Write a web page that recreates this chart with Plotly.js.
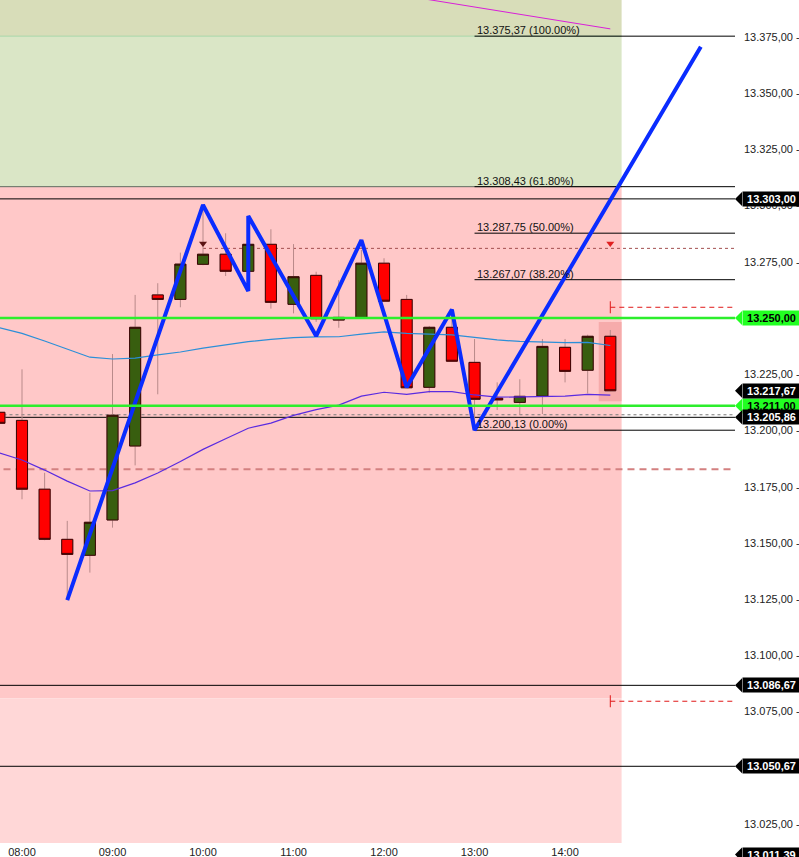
<!DOCTYPE html>
<html>
<head>
<meta charset="utf-8">
<script src="https://cdn.plot.ly/plotly-3.0.1.min.js"></script>
<style>html,body{margin:0;padding:0;background:#fff}#chart{width:799px;height:857px}</style>
</head>
<body>
<div id="chart"></div>
<script>
// ---------- data ----------
const DAY = '2024-03-04 ';
const times = ['07:45','08:00','08:15','08:30','08:45','09:00','09:15','09:30','09:45','10:00','10:15','10:30','10:45','11:00','11:15','11:30','11:45','12:00','12:15','12:30','12:45','13:00','13:15','13:30','13:45','14:00','14:15','14:30'];
const opens  = [13208.1,13204.5,13173.9,13151.6,13144.5,13160.2,13193.1,13260.3,13258.3,13273.9,13278.4,13270.8,13282.8,13256.1,13269.0,13249.1,13250.3,13274.4,13258.3,13219.2,13245.9,13230.3,13214.4,13212.5,13215.3,13237.0,13226.8,13241.9];
const highs  = [13210.5,13227.2,13181.2,13159.8,13172.3,13234.0,13260.3,13265.5,13279.1,13300.3,13287.7,13290.0,13289.5,13282.9,13270.6,13266.9,13280.3,13276.6,13260.3,13246.5,13253.6,13240.7,13221.4,13222.8,13240.7,13240.7,13242.6,13244.7];
const lows   = [13202.5,13169.4,13151.2,13124.6,13136.8,13156.8,13184.5,13216.1,13254.8,13273.5,13268.7,13270.5,13254.2,13252.1,13248.3,13245.7,13250.0,13257.2,13218.9,13216.8,13230.6,13200.13,13209.1,13206.9,13207.3,13221.4,13216.5,13217.5];
const closes = [13203.2,13173.9,13151.6,13144.9,13159.2,13206.8,13245.9,13258.3,13274.0,13278.4,13270.8,13282.8,13257.0,13268.4,13249.7,13250.3,13274.4,13257.5,13219.0,13245.9,13230.8,13213.9,13213.6,13215.2,13237.4,13226.3,13241.9,13217.67];

const maFast = [13245.7,13243.2,13239.8,13236.2,13232.6,13231.8,13232.2,13233.6,13234.9,13236.6,13238.0,13239.5,13240.5,13241.3,13241.6,13241.7,13242.9,13243.9,13243.2,13242.9,13242.5,13241.4,13240.3,13239.6,13239.2,13239.1,13239.2,13237.8];
const maSlow = [13190.0,13186.9,13182.4,13177.5,13173.1,13173.3,13176.7,13181.1,13186.2,13191.6,13196.3,13201.0,13203.3,13206.7,13209.3,13211.3,13215.3,13217.0,13216.1,13217.3,13217.3,13215.8,13214.8,13215.0,13215.1,13215.3,13216.1,13215.7];

const zigTimes  = ['08:30','10:00','10:30','10:30','11:15','11:45','12:15','12:45','13:00','15:30'];
const zigPrices = [13124.6,13300.3,13262.0,13295.4,13242.0,13284.7,13219.2,13253.8,13200.13,13370.7];

const trendTimes  = ['12:15','14:30'];
const trendPrices = [13393.2,13378.6];

const fibLevels = [13375.37,13308.43,13287.75,13267.07,13200.13];
const fibPcts   = ['100.00%','61.80%','50.00%','38.20%','0.00%'];
const fibStart  = '13:00';

const zoneTops    = [13420.00,13375.37,13308.43,13080.90];
const zoneBottoms = [13375.37,13308.43,13080.90,13016.60];
const zoneColors  = ['#d8ddb9','#dae6c6','#ffc8c8','#ffd7d7'];
const shadeEnd    = '14:37:30';

const blackLevels = [13303.00,13205.86,13086.67,13050.67];
const greenLevels = [13250.00,13211.00];
const lastPrice   = 13217.67;
const lowPrice    = 13011.39;
const alertLevel  = 13281.0;
const alertStart  = '10:00';
const alertMarkTimes = ['10:00','14:30'];
const orderLevels = [13254.8,13079.6];
const orderStart  = '14:30';
const pinkDashLevel = 13182.8;
const greyDashLevel = 13207.0;

const yTicks = [13025,13050,13075,13100,13125,13150,13175,13200,13225,13250,13275,13300,13325,13350,13375];
const xTicks = ['08:00','09:00','10:00','11:00','12:00','13:00','14:00'];

// ---------- helpers ----------
const FONT = 'Liberation Sans, Arial, sans-serif';
const T = t => DAY + t;
function fmt(v){
  const s = v.toFixed(2).split('.');
  return s[0].replace(/\B(?=(\d{3})+(?!\d))/g,'.') + ',' + s[1];
}
const X_FAR_L = T('07:00'), X_FAR_R = T('16:30');
const tagLevels = greenLevels.concat(blackLevels, [lastPrice, lowPrice]);

// ---------- traces ----------
const tx = times.map(T);
const wickTrace = {
  type:'candlestick', x:tx, open:opens, high:highs, low:lows, close:closes,
  increasing:{line:{color:'#b98a8a',width:1},fillcolor:'#385e0f'},
  decreasing:{line:{color:'#b98a8a',width:1},fillcolor:'#ff0000'},
  hoverinfo:'skip', showlegend:false
};
const bodyTrace = {
  type:'candlestick', x:tx, open:opens, close:closes,
  high:opens.map((o,i)=>Math.max(o,closes[i])),
  low:opens.map((o,i)=>Math.min(o,closes[i])),
  increasing:{line:{color:'#3a0505',width:1},fillcolor:'#385e0f'},
  decreasing:{line:{color:'#3a0505',width:1},fillcolor:'#ff0000'},
  hoverinfo:'skip', showlegend:false
};
const fastTrace = {type:'scatter',mode:'lines',x:tx,y:maFast,line:{color:'#2b8fd8',width:1.2},hoverinfo:'skip'};
const slowTrace = {type:'scatter',mode:'lines',x:tx,y:maSlow,line:{color:'#5a2be0',width:1.2},hoverinfo:'skip'};
const trendTrace = {type:'scatter',mode:'lines',x:trendTimes.map(T),y:trendPrices,line:{color:'#d81fd8',width:1},hoverinfo:'skip'};
const alertTrace = {type:'scatter',mode:'markers',x:alertMarkTimes.map(T),y:alertMarkTimes.map(()=>alertLevel+2.2),
  marker:{symbol:'triangle-down',size:7,color:['#5a1414','#e02020']},hoverinfo:'skip'};
const zigTrace = {type:'scatter',mode:'lines',x:zigTimes.map(T),y:zigPrices,line:{color:'#0a2cff',width:4},hoverinfo:'skip'};

// ---------- shapes ----------
const shapes = [];
zoneTops.forEach((top,i)=>shapes.push({type:'rect',xref:'x',yref:'y',x0:X_FAR_L,x1:T(shadeEnd),y0:zoneBottoms[i],y1:top,fillcolor:zoneColors[i],line:{width:0},layer:'below'}));
shapes.push({type:'line',xref:'x',yref:'y',x0:X_FAR_L,x1:T(shadeEnd),y0:fibLevels[0],y1:fibLevels[0],line:{color:'#a6d6a6',width:1},layer:'below'});
shapes.push({type:'line',xref:'x',yref:'y',x0:X_FAR_L,x1:T(shadeEnd),y0:fibLevels[1],y1:fibLevels[1],line:{color:'#5d6b5d',width:1},layer:'below'});
const li = times.length-1;
shapes.push({type:'rect',xref:'x',yref:'y',x0:T('14:22:20'),x1:T(shadeEnd),y0:lows[li]-4.5,y1:highs[li]+3.6,fillcolor:'#f4a6a6',opacity:0.85,line:{width:0},layer:'below'});
fibLevels.forEach(v=>shapes.push({type:'line',xref:'x',yref:'y',x0:T(fibStart),x1:X_FAR_R,y0:v,y1:v,line:{color:'#000',width:1},layer:'below'}));
blackLevels.forEach(v=>shapes.push({type:'line',xref:'x',yref:'y',x0:X_FAR_L,x1:X_FAR_R,y0:v,y1:v,line:{color:'#000',width:1},layer:'below'}));
shapes.push({type:'line',xref:'x',yref:'y',x0:X_FAR_L,x1:X_FAR_R,y0:pinkDashLevel,y1:pinkDashLevel,line:{color:'#d38080',width:2,dash:'7px,5px'},layer:'below'});
shapes.push({type:'line',xref:'x',yref:'y',x0:X_FAR_L,x1:X_FAR_R,y0:greyDashLevel,y1:greyDashLevel,line:{color:'#7a7a7a',width:1,dash:'3px,3px'},layer:'below'});
shapes.push({type:'line',xref:'x',yref:'y',x0:T(alertStart),x1:X_FAR_R,y0:alertLevel,y1:alertLevel,line:{color:'#a34f4f',width:1,dash:'dot'},layer:'below'});
orderLevels.forEach(v=>{
  shapes.push({type:'line',xref:'x',yref:'y',x0:T(orderStart),x1:X_FAR_R,y0:v,y1:v,line:{color:'#e01818',width:1,dash:'5px,4px'},layer:'above'});
  shapes.push({type:'line',xref:'x',yref:'y',ysizemode:'pixel',yanchor:v,x0:T(orderStart),x1:T(orderStart),y0:-6,y1:6,line:{color:'#e01818',width:1},layer:'above'});
});
greenLevels.forEach(v=>shapes.push({type:'line',xref:'x',yref:'y',x0:X_FAR_L,x1:X_FAR_R,y0:v,y1:v,line:{color:'#2cee2c',width:2.5},layer:'above'}));

// ---------- tags & labels ----------
const annotations = [];
function addTag(v,bg,fg){
  shapes.push({type:'path',xref:'paper',yref:'y',xsizemode:'pixel',ysizemode:'pixel',xanchor:1,yanchor:v,path:'M0,0L7,-7L7,7Z',fillcolor:bg,line:{width:0},layer:'above'});
  annotations.push({xref:'paper',x:1,xanchor:'left',xshift:7,yref:'y',y:v,yanchor:'middle',text:'<b>'+fmt(v)+'</b>',showarrow:false,
    font:{family:FONT,size:11,color:fg},bgcolor:bg,width:57,height:14,borderpad:0,align:'center'});
}
greenLevels.forEach(v=>addTag(v,'#22ff22','#000'));
[blackLevels[0],lastPrice,blackLevels[1],blackLevels[2],blackLevels[3],lowPrice].forEach(v=>addTag(v,'#000','#fff'));
fibLevels.forEach((v,i)=>annotations.push({xref:'x',x:T(fibStart),xanchor:'left',yref:'y',y:v,yanchor:'bottom',yshift:-2,
  text:fmt(v)+' ('+fibPcts[i]+')',showarrow:false,font:{family:FONT,size:11,color:'#111'}}));

// tick labels fully covered by a price tag are left blank
const yTickText = yTicks.map(v=>tagLevels.some(t=>Math.abs(t-v)<1) ? '' : fmt(v)+' -');

const layout = {
  width:799,height:857,margin:{l:0,r:64,t:0,b:0},
  paper_bgcolor:'#fff',plot_bgcolor:'#fff',showlegend:false,
  xaxis:{type:'date',range:[T('07:45:25'),T('15:52:40')],rangeslider:{visible:false},showgrid:false,zeroline:false,showline:false,
    tickvals:xTicks.map(T),ticktext:xTicks,ticks:'',ticklabelposition:'inside',ticklabelstandoff:-4,tickfont:{family:FONT,size:11,color:'#222'}},
  yaxis:{side:'right',range:[13010.33,13391.45],showgrid:false,zeroline:false,showline:false,
    tickvals:yTicks,ticktext:yTickText,ticks:'',ticklabelstandoff:8,tickfont:{family:FONT,size:11,color:'#222'}},
  shapes:shapes,annotations:annotations,hovermode:false
};
Plotly.newPlot('chart',[wickTrace,bodyTrace,trendTrace,fastTrace,slowTrace,alertTrace,zigTrace],layout,{staticPlot:true,displayModeBar:false});
</script>
</body>
</html>
